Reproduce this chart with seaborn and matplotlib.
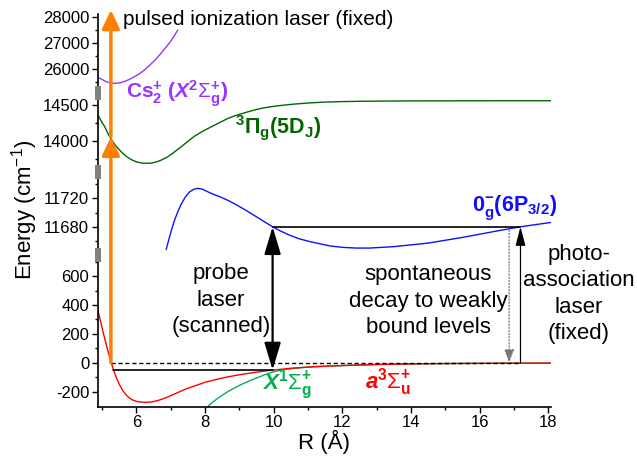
import numpy as np
import matplotlib
matplotlib.use("Agg")
import matplotlib.pyplot as plt
from matplotlib.ticker import FixedLocator, FuncFormatter
import seaborn as sns

# ---- potential curves: internuclear distance R (Angstrom), energy (cm^-1) ----
r_a3su = [4.88, 4.95, 5.03, 5.10, 5.18, 5.27, 5.35, 5.42, 5.50, 5.60, 5.70, 5.80,
          5.90, 6.00, 6.10, 6.25, 6.40, 6.55, 6.70, 6.85, 7.00, 7.15, 7.30, 7.45,
          7.60, 7.80, 8.00, 8.25, 8.50, 8.75, 9.00, 9.25, 9.50, 9.75, 10.0, 10.25,
          10.5, 10.8, 11.2, 11.7, 12.3, 13.0, 14.0, 15.0, 16.0, 17.0, 18.07]
e_a3su = [368, 295, 215, 148, 76, 0, -58, -103, -147, -190, -222, -244,
          -258, -267, -271, -274, -272, -266, -256, -243, -228, -212, -196, -181,
          -168, -152, -135, -120, -106, -94, -83, -74, -65, -57, -50, -44,
          -38, -33, -27, -22, -17, -12, -8, -5.5, -4, -3, -2]

r_x1sg = [8.09, 8.25, 8.40, 8.55, 8.70, 8.85, 9.00, 9.20, 9.40, 9.60, 9.80, 10.0,
          10.25, 10.5, 10.8, 11.2, 11.7, 12.3, 13.0, 14.0, 15.0, 16.0, 17.0, 18.07]
e_x1sg = [-300, -268, -241, -217, -195, -175, -157, -135, -115, -96, -78, -62,
          -50, -41, -34, -27, -22, -17, -12, -8, -5.5, -4, -3, -2]

r_0g = [6.87, 6.92, 6.97, 7.04, 7.12, 7.20, 7.31, 7.43, 7.55, 7.68, 7.80, 7.92,
        8.05, 8.23, 8.45, 8.72, 8.95, 9.20, 9.40, 9.60, 9.80, 9.97, 10.2, 10.47,
        10.75, 11.06, 11.35, 11.64, 12.0, 12.4, 12.8, 13.5, 14.5, 15.5, 16.5, 17.19, 18.07]
e_0g = [11648, 11657, 11666, 11678, 11690, 11700, 11712, 11722, 11729, 11733, 11734, 11733,
        11730, 11726, 11722, 11716, 11710, 11703, 11697, 11691, 11685, 11680, 11674, 11668,
        11663, 11659, 11656, 11653, 11651, 11650, 11650, 11652, 11657, 11665, 11674, 11680, 11686]

r_3pg = [4.88, 5.00, 5.08, 5.18, 5.27, 5.40, 5.56, 5.70, 5.85, 6.00, 6.15, 6.30,
         6.45, 6.60, 6.75, 6.92, 7.10, 7.31, 7.50, 7.70, 7.95, 8.19, 8.45, 8.67,
         8.90, 9.16, 9.40, 9.64, 9.90, 10.13, 10.4, 10.62, 11.0, 11.44, 12.0, 12.5,
         13.39, 14.5, 16.0, 18.07]
e_3pg = [14361, 14262, 14199, 14100, 14024, 13935, 13851, 13790, 13743, 13712, 13695, 13690,
         13695, 13712, 13740, 13782, 13845, 13921, 13995, 14069, 14140, 14199, 14262, 14315,
         14356, 14393, 14426, 14454, 14475, 14490, 14504, 14514, 14528, 14540, 14548, 14552,
         14556, 14558, 14559, 14560]

r_ion = [4.88, 4.95, 5.03, 5.10, 5.18, 5.27, 5.36, 5.45, 5.55, 5.65, 5.80, 5.95,
         6.10, 6.25, 6.40, 6.55, 6.70, 6.85, 7.00, 7.10, 7.21]
e_ion = [25696, 25645, 25593, 25545, 25505, 25475, 25465, 25470, 25495, 25535, 25615, 25720,
         25840, 25990, 26170, 26360, 26580, 26820, 27070, 27270, 27500]

# ---- laser transitions and levels ----
r_ionlaser = 5.26
e_ion_steps = [0, 14060, 28270]
r_probe = 9.97
e_bound = -50
e_excited = 11680
r_pa = 17.19
r_decay = 16.86
r_level_start = 5.32

# ---- axis ticks ----
yticks_major = [-200, 0, 200, 400, 600, 11680, 11720, 14000, 14500, 26000, 27000, 28000]
yticks_minor = [-100, 100, 300, 500, 700, 11660, 11700, 11740, 13750, 14250,
                25500, 26500, 27500]
xticks_major = [6, 8, 10, 12, 14, 16, 18]
xticks_minor = [5, 7, 9, 11, 13, 15, 17]

# ---- broken energy axis: each segment is linear between two reference ticks ----
segments = [
    dict(lo=-304, hi=745, e1=0, y1=362.7, e2=600, y2=276.0),
    dict(lo=11641, hi=11757, e1=11680, y1=226.7, e2=11720, y2=198.3),
    dict(lo=13576, hi=14666, e1=14000, y1=141.0, e2=14500, y2=105.0),
    dict(lo=25100, hi=28120, e1=26000, y1=69.3, e2=28000, y2=17.0),
]


def seg_row(seg, e):
    slope = (seg["y2"] - seg["y1"]) / (seg["e2"] - seg["e1"])
    return seg["y1"] + (e - seg["e1"]) * slope


knot_e, knot_v = [], []
first, last = segments[0], segments[-1]
knot_e.append(first["lo"] - 1e5)
knot_v.append(-seg_row(first, first["lo"] - 1e5))
for seg in segments:
    for e in (seg["lo"], seg["hi"]):
        knot_e.append(e)
        knot_v.append(-seg_row(seg, e))
knot_e.append(last["hi"] + 1e5)
knot_v.append(-seg_row(last, last["hi"] + 1e5))
knot_e = np.array(knot_e)
knot_v = np.array(knot_v)


def fwd(e):
    return np.interp(np.asarray(e, dtype=float), knot_e, knot_v)


def inv(v):
    return np.interp(np.asarray(v, dtype=float), knot_v, knot_e)


# ---- style ----
sns.set_theme(style="ticks")
plt.rcParams["font.family"] = ["Liberation Sans", "DejaVu Sans"]
plt.rcParams["mathtext.fontset"] = "custom"
plt.rcParams["mathtext.rm"] = "Liberation Sans"
plt.rcParams["mathtext.it"] = "Liberation Sans:italic"
plt.rcParams["mathtext.bf"] = "Liberation Sans:bold"
plt.rcParams["mathtext.bfit"] = "Liberation Sans:bold:italic"
plt.rcParams["mathtext.default"] = "bf"
plt.rcParams["axes.unicode_minus"] = False
for key in ("text.color", "axes.labelcolor", "axes.edgecolor",
            "xtick.color", "ytick.color"):
    plt.rcParams[key] = "black"

W, H = 637, 458
X0, X1 = 97.5, 550.7      # axes left/right (px)
YB, YT = 406.7, 13.9      # axes bottom/top (px from top)

fig = plt.figure(figsize=(W / 100, H / 100), dpi=100)
ax = fig.add_axes([X0 / W, 1 - YB / H, (X1 - X0) / W, (YB - YT) / H])
ax.set_yscale("function", functions=(fwd, inv))

ORANGE = "#ff8000"
PURPLE = "#9933ff"
DKGREEN = "#006600"
BLUE = "#1010ff"
RED = "#ff0000"
GREEN = "#00b050"

curve_kw = dict(ax=ax, estimator=None, sort=False, linewidth=1.0, legend=False)
sns.lineplot(x=r_ion, y=e_ion, color=PURPLE, **curve_kw)
sns.lineplot(x=r_3pg, y=e_3pg, color=DKGREEN, **curve_kw)
sns.lineplot(x=r_0g, y=e_0g, color=BLUE, **curve_kw)
sns.lineplot(x=r_x1sg, y=e_x1sg, color=GREEN, **curve_kw)
sns.lineplot(x=r_a3su, y=e_a3su, color=RED, **curve_kw)

ax.set_xlim(4.87, 18.07)
ax.set_ylim(-304, 28120)

# levels
ax.plot([r_ionlaser, r_pa], [0, 0], color="black", lw=1.0, ls=(0, (3, 2)), zorder=3)
ax.plot([r_level_start, r_probe], [e_bound, e_bound], color="black", lw=1.2, zorder=3)
ax.plot([r_probe, r_pa], [e_excited, e_excited], color="black", lw=1.2, zorder=3)

# pulsed ionization laser (two photons)
for lo, hi in zip(e_ion_steps[:-1], e_ion_steps[1:]):
    ax.annotate("", xy=(r_ionlaser, hi), xytext=(r_ionlaser, lo),
                annotation_clip=False,
                arrowprops=dict(arrowstyle="-|>,head_length=0.8,head_width=0.38",
                                mutation_scale=14, color=ORANGE, lw=2.5,
                                shrinkA=0, shrinkB=0), zorder=4)

# probe laser (double headed)
ax.annotate("", xy=(r_probe, e_excited), xytext=(r_probe, e_bound),
            arrowprops=dict(arrowstyle="<|-|>,head_length=1.2,head_width=0.36",
                            mutation_scale=14, color="black", lw=1.6,
                            shrinkA=0, shrinkB=0), zorder=5)

# photoassociation laser
ax.annotate("", xy=(r_pa, e_excited), xytext=(r_pa, 0),
            arrowprops=dict(arrowstyle="-|>,head_length=1.15,head_width=0.3",
                            mutation_scale=10, color="black", lw=0.9,
                            shrinkA=0, shrinkB=0), zorder=5)

# spontaneous decay
ax.annotate("", xy=(r_decay, 0), xytext=(r_decay, e_excited - 5),
            arrowprops=dict(arrowstyle="-|>,head_length=0.8,head_width=0.3",
                            mutation_scale=10, color="#777777", lw=0.9,
                            linestyle=(0, (1, 1.5)), shrinkA=0, shrinkB=0), zorder=5)

# ---- axes ----
sns.despine(ax=ax)
for side in ("left", "bottom"):
    ax.spines[side].set_linewidth(1.2)
ax.yaxis.set_major_locator(FixedLocator(yticks_major))
ax.yaxis.set_minor_locator(FixedLocator(yticks_minor))
ax.yaxis.set_major_formatter(FuncFormatter(lambda v, p: f"{v:.0f}"))
ax.yaxis.set_minor_formatter(FuncFormatter(lambda v, p: ""))
ax.xaxis.set_major_locator(FixedLocator(xticks_major))
ax.xaxis.set_minor_locator(FixedLocator(xticks_minor))
ax.tick_params(which="major", direction="out", length=4, width=1.0,
               labelsize=12, pad=2, colors="black")
ax.tick_params(which="minor", direction="out", length=2.5, width=1.0, colors="black")

ax.set_xlabel("R (Å)", fontsize=16, labelpad=0)
ax.set_ylabel("Energy (cm$^{\\mathrm{-1}}$)", fontsize=16, labelpad=2)

# break marks on the energy axis
ytr = ax.get_yaxis_transform()
for a, b in zip(segments[:-1], segments[1:]):
    mid = 0.5 * (a["hi"] + b["lo"])
    ax.plot([0], [mid], marker="|", ms=10, mew=4.3, color="#808080",
            transform=ytr, clip_on=False, zorder=6)


def at(px, py):
    return ((px - X0) / (X1 - X0), (YB - py) / (YB - YT))


tkw = dict(transform=ax.transAxes, va="center")
ax.text(*at(123, 19.5), "pulsed ionization laser (fixed)", fontsize=15, ha="left", **tkw)
ax.text(*at(126, 93.5),
        r"Cs$_{2}^{+}$ ($\mathbfit{X}^{2}\mathrm{\Sigma}_{g}^{+}$)",
        fontsize=15, fontweight="bold", color=PURPLE, ha="left", **tkw)
ax.text(*at(235, 127.5), r"$^{3}\Pi_{g}$(5D$_{J}$)",
        fontsize=15.5, fontweight="bold", color=DKGREEN, ha="left", **tkw)
ax.text(*at(472, 208), r"0$_{g}^{-}$(6P$_{3/2}$)",
        fontsize=15.5, fontweight="bold", color=BLUE, ha="left", **tkw)
ax.text(*at(262, 385), r"$\mathbfit{X}^{1}\mathrm{\Sigma}_{g}^{+}$",
        fontsize=16, fontweight="bold", color=GREEN, ha="left", **tkw)
ax.text(*at(365, 382), r"$\mathbfit{a}^{3}\mathrm{\Sigma}_{u}^{+}$",
        fontsize=16, fontweight="bold", color=RED, ha="left", **tkw)

ax.text(*at(221, 300), "probe\nlaser\n(scanned)", fontsize=16, ha="center",
        multialignment="center", linespacing=1.35, **tkw)
ax.text(*at(428.5, 301), "spontaneous\ndecay to weakly\nbound levels", fontsize=16,
        ha="center", multialignment="center", linespacing=1.35, **tkw)
ax.text(*at(579, 294), "photo-\nassociation\nlaser\n(fixed)", fontsize=16,
        ha="center", multialignment="center", linespacing=1.35, **tkw)

fig.savefig("out.png", dpi=100)
